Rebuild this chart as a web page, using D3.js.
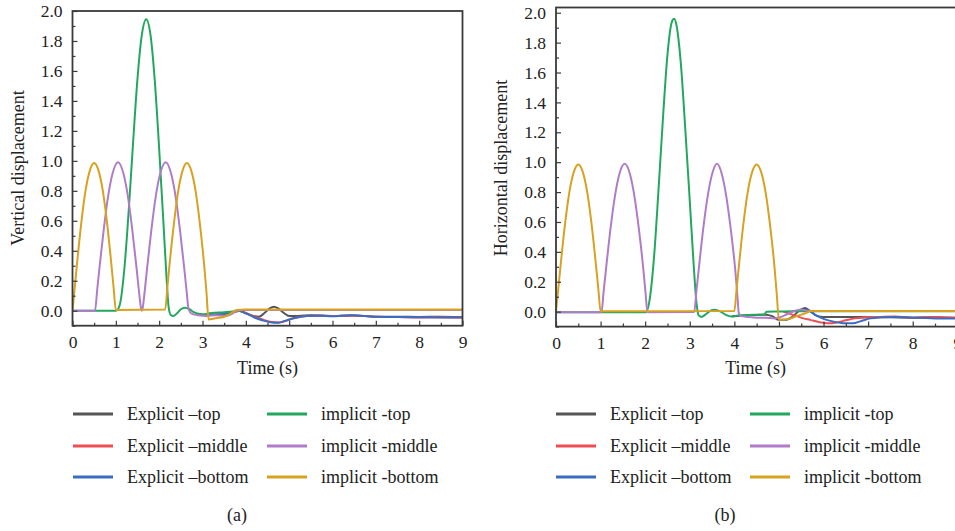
<!DOCTYPE html>
<html>
<head>
<meta charset="utf-8">
<script src="https://cdn.jsdelivr.net/npm/d3@7"></script>
<style>
  html, body { margin: 0; padding: 0; background: #fff; }
  svg { display: block; }
  svg text { font-family: "Liberation Serif", "Times New Roman", serif !important; }
</style>
</head>
<body>
<svg id="chart" width="955" height="531"></svg>
<script>
'use strict';

// tick labels
var xTicks = [0, 1, 2, 3, 4, 5, 6, 7, 8, 9]
  , yTicks = [0, 0.2, 0.4, 0.6, 0.8, 1.0, 1.2, 1.4, 1.6, 1.8, 2.0];

var seriesNames = ['Explicit \u2013top', 'Explicit \u2013middle', 'Explicit \u2013bottom',
                   'implicit -top', 'implicit -middle', 'implicit -bottom'];

// (a) vertical displacement, [time, value]
var aExplicitTop = [[2.9,-0.02],[3.1,-0.03],[3.3,-0.025],[3.5,-0.02],[3.7,-0.01],[3.82,0.0],[3.95,-0.01],
  [4.1,-0.028],[4.3,-0.04],[4.45,-0.01],[4.55,0.015],[4.65,0.027],[4.75,0.015],[4.88,-0.015],[5.0,-0.035],
  [5.2,-0.035],[5.5,-0.03],[6.0,-0.035],[6.5,-0.032],[7.0,-0.04],[7.5,-0.04],[8.0,-0.042],[8.5,-0.04],[9.0,-0.043]];
var aExplicitMiddle = [[2.9,-0.025],[3.1,-0.03],[3.3,-0.025],[3.5,-0.02],[3.7,-0.01],[3.85,0.0],[4.0,-0.015],
  [4.2,-0.04],[4.4,-0.06],[4.6,-0.075],[4.75,-0.078],[4.9,-0.07],[5.1,-0.05],[5.3,-0.038],[5.6,-0.032],
  [6.0,-0.035],[6.5,-0.032],[7.0,-0.04],[7.5,-0.042],[8.0,-0.045],[8.5,-0.043],[9.0,-0.045]];
var aExplicitBottom = [[2.9,-0.025],[3.1,-0.03],[3.3,-0.025],[3.5,-0.02],[3.7,-0.01],[3.85,-0.002],[4.0,-0.018],
  [4.2,-0.045],[4.4,-0.065],[4.6,-0.078],[4.75,-0.08],[4.9,-0.068],[5.1,-0.05],[5.4,-0.035],[5.7,-0.033],
  [6.0,-0.037],[6.4,-0.03],[7.0,-0.04],[7.5,-0.042],[8.0,-0.044],[8.5,-0.045],[9.0,-0.043]];
var aImplicitTop = [[0,0],[1.0,0.0],[1.05,0.01],[1.1,0.05],[1.2,0.29],[1.3,0.68],[1.4,1.13],[1.5,1.55],
  [1.6,1.84],[1.7,1.945],[1.8,1.84],[1.9,1.53],[2.0,1.08],[2.1,0.58],[2.17,0.22],[2.22,0.02],[2.27,-0.03],
  [2.33,-0.035],[2.42,-0.015],[2.5,0.01],[2.6,0.02],[2.7,0.01],[2.8,-0.01],[2.9,-0.02],[3.0,-0.025],
  [3.2,-0.015],[3.5,-0.01],[3.7,-0.005],[3.8,0.0],[3.9,0.004],[9,0.004]];
var aImplicitMiddle = [[0,0],[0.52,0],[0.57,0.14],[0.62,0.28],[0.72,0.54],[0.82,0.76],[0.92,0.91],[1.05,0.99],
  [1.18,0.91],[1.28,0.76],[1.38,0.54],[1.48,0.28],[1.53,0.14],[1.58,0.02],[1.6,0.0],[1.62,0.02],[1.67,0.14],
  [1.72,0.28],[1.82,0.54],[1.92,0.76],[2.02,0.91],[2.15,0.99],[2.28,0.91],[2.38,0.76],[2.48,0.54],[2.58,0.28],
  [2.63,0.14],[2.68,0.01],[2.75,-0.02],[2.9,-0.03],[3.1,-0.035],[3.3,-0.03],[3.5,-0.035],[3.65,-0.025],
  [3.8,0.0],[3.9,0.005],[9,0.005]];
var aImplicitBottom = [[0,0],[0.05,0.15],[0.1,0.3],[0.2,0.58],[0.3,0.8],[0.4,0.935],[0.5,0.985],[0.6,0.935],
  [0.7,0.8],[0.8,0.58],[0.9,0.3],[0.95,0.15],[1.0,0.005],[2.14,0.008],[2.19,0.16],[2.24,0.31],[2.34,0.58],
  [2.44,0.8],[2.54,0.935],[2.64,0.985],[2.74,0.935],[2.84,0.8],[2.94,0.58],[3.04,0.3],[3.09,0.13],
  [3.14,-0.058],[3.3,-0.05],[3.5,-0.04],[3.65,-0.02],[3.78,0.005],[4.0,0.008],[9,0.008]];

// (b) horizontal displacement, [time, value]
var bExplicitTop = [[3.95,-0.03],[4.1,-0.028],[4.3,-0.025],[4.5,-0.022],[4.7,-0.02],[4.85,-0.03],[5.0,-0.055],
  [5.15,-0.055],[5.3,-0.035],[5.45,0.005],[5.58,0.024],[5.7,0.005],[5.85,-0.028],[6.0,-0.035],[6.3,-0.035],
  [6.6,-0.035],[7.0,-0.037],[7.5,-0.038],[8.0,-0.04],[8.5,-0.04],[9,-0.042]];
var bExplicitMiddle = [[5.1,0.0],[5.25,-0.015],[5.4,-0.03],[5.55,-0.045],[5.7,-0.055],[5.9,-0.07],[6.1,-0.078],
  [6.3,-0.072],[6.5,-0.058],[6.7,-0.045],[7.0,-0.038],[7.3,-0.035],[7.6,-0.033],[8.0,-0.04],[8.3,-0.036],
  [8.6,-0.035],[9,-0.04]];
var bExplicitBottom = [[5.3,0.003],[5.5,0.01],[5.62,0.012],[5.8,-0.02],[6.0,-0.048],[6.2,-0.065],[6.45,-0.077],
  [6.65,-0.078],[6.85,-0.062],[7.05,-0.045],[7.3,-0.038],[7.6,-0.035],[8.0,-0.04],[8.3,-0.042],[8.6,-0.045],
  [9,-0.045]];
var bImplicitTop = [[0,-0.004],[2.02,-0.004],[2.1,0.08],[2.2,0.37],[2.3,0.82],[2.4,1.3],[2.5,1.72],[2.6,1.94],
  [2.65,1.96],[2.7,1.92],[2.8,1.66],[2.9,1.22],[3.0,0.74],[3.08,0.35],[3.15,0.06],[3.2,-0.025],[3.26,-0.035],
  [3.35,-0.02],[3.45,0.003],[3.56,0.012],[3.68,0.002],[3.8,-0.02],[3.93,-0.033],[4.05,-0.028],[4.3,-0.022],
  [4.6,-0.02],[4.68,-0.018],[4.72,0.0],[5.0,0.001],[5.3,0.002],[9,0.003]];
var bImplicitMiddle = [[0,-0.004],[1.02,-0.004],[1.07,0.14],[1.12,0.28],[1.22,0.55],[1.32,0.77],[1.42,0.92],
  [1.54,0.99],[1.66,0.92],[1.76,0.77],[1.86,0.55],[1.96,0.28],[2.01,0.12],[2.05,-0.004],[3.1,-0.002],
  [3.15,0.14],[3.2,0.28],[3.3,0.55],[3.4,0.77],[3.5,0.92],[3.61,0.99],[3.72,0.92],[3.82,0.77],[3.92,0.55],
  [4.02,0.28],[4.07,0.1],[4.1,-0.01],[4.15,-0.03],[4.3,-0.035],[4.5,-0.04],[4.7,-0.04],[4.9,-0.045],
  [5.05,-0.035],[5.2,-0.015],[5.35,0.005],[5.5,0.015],[5.65,0.005],[9,0.004]];
var bImplicitBottom = [[0,0],[0.05,0.15],[0.1,0.3],[0.2,0.58],[0.3,0.8],[0.4,0.935],[0.5,0.985],[0.6,0.935],
  [0.7,0.8],[0.8,0.58],[0.9,0.3],[0.95,0.15],[1.0,0.003],[4.0,0.004],[4.05,0.15],[4.1,0.3],[4.2,0.58],
  [4.3,0.8],[4.4,0.935],[4.5,0.985],[4.6,0.935],[4.7,0.8],[4.8,0.58],[4.9,0.3],[4.95,0.12],[5.0,-0.055],
  [5.2,-0.05],[5.4,-0.03],[5.6,-0.01],[5.72,0.004],[9,0.004]];

var colors = ['#555555', '#ee4f55', '#3b6cc4', '#22a85e', '#b07cc7', '#d8a120'];

var svg = d3.select('#chart');

panel({
  series: [aExplicitTop, aExplicitMiddle, aExplicitBottom, aImplicitTop, aImplicitMiddle, aImplicitBottom],
  x: d3.scaleLinear().domain([0, 9]).range([72.5, 462.5]),
  y: d3.scaleLinear().domain([-0.1, 2.0]).range([325.7, 11]),
  ylabel: 'Vertical displacement', ylabelX: 18,
  legendX: [73, 267], caption: '(a)', captionX: 237
});

panel({
  series: [bExplicitTop, bExplicitMiddle, bExplicitBottom, bImplicitTop, bImplicitMiddle, bImplicitBottom],
  x: d3.scaleLinear().domain([0, 9]).range([556, 957.3]),
  y: d3.scaleLinear().domain([-0.1, 2.035]).range([326.6, 7.5]),
  ylabel: 'Horizontal displacement', ylabelX: 501,
  legendX: [556, 750], caption: '(b)', captionX: 725
});

function panel(o){
  var g = svg.append('g')
    , x = o.x, y = o.y
    , x0 = x.range()[0], x1 = x.range()[1]
    , y0 = y.range()[0], y1 = y.range()[1];

  var clipId = 'clip' + o.caption.charAt(1);
  g.append('clipPath').attr('id', clipId)
    .append('rect').attr('x', x0).attr('y', y1).attr('width', x1 - x0).attr('height', y0 - y1);

  var line = d3.line()
    .x(function(d){ return x(d[0]); })
    .y(function(d){ return y(d[1]); })
    .curve(d3.curveMonotoneX);

  g.append('g').attr('clip-path', 'url(#' + clipId + ')')
    .selectAll('path').data(o.series).join('path')
      .attr('d', line)
      .attr('fill', 'none')
      .attr('stroke', function(d, i){ return colors[i]; })
      .attr('stroke-width', 2)
      .attr('stroke-linejoin', 'round');

  // minor ticks (inward, no labels)
  var xMinor = d3.range(0.5, 9, 1)
    , yMinor = d3.range(-0.1, 2.0, 0.2).map(function(v){ return +v.toFixed(1); });

  g.append('g').attr('transform', 'translate(0,' + y0 + ')')
    .call(d3.axisBottom(x).tickValues(xMinor).tickSize(-3).tickFormat(''))
    .call(cleanAxis);
  g.append('g').attr('transform', 'translate(' + x0 + ',0)')
    .call(d3.axisLeft(y).tickValues(yMinor).tickSize(-3).tickFormat(''))
    .call(cleanAxis);

  g.append('g').attr('transform', 'translate(0,' + y0 + ')')
    .call(d3.axisBottom(x).tickValues(xTicks).tickSize(-5).tickPadding(10).tickFormat(d3.format('d')))
    .call(cleanAxis);
  g.append('g').attr('transform', 'translate(' + x0 + ',0)')
    .call(d3.axisLeft(y).tickValues(yTicks).tickSize(-5).tickPadding(10).tickFormat(d3.format('.1f')))
    .call(cleanAxis);

  g.append('rect')
    .attr('x', x0).attr('y', y1).attr('width', x1 - x0).attr('height', y0 - y1)
    .attr('fill', 'none').attr('stroke', '#3a3a3a').attr('stroke-width', 1.8);

  g.append('text')
    .attr('x', (x.range()[0] + x(9)) / 2 + (o.caption === '(b)' ? -1 : 0)).attr('y', 368).attr('dy', '0.35em')
    .attr('text-anchor', 'middle').attr('font-size', 18).attr('fill', '#222')
    .text('Time (s)');

  g.append('text')
    .attr('transform', 'translate(' + o.ylabelX + ',168) rotate(-90)')
    .attr('dy', '0.35em')
    .attr('text-anchor', 'middle').attr('font-size', 18).attr('fill', '#222')
    .text(o.ylabel);

  // legend: two columns of three
  var rowsY = [414, 446, 477];
  var items = g.append('g').selectAll('g').data(seriesNames).join('g')
    .attr('transform', function(d, i){
      return 'translate(' + o.legendX[Math.floor(i / 3)] + ',' + rowsY[i % 3] + ')';
    });
  items.append('line')
    .attr('x1', 0).attr('x2', 40)
    .attr('stroke', function(d, i){ return colors[i]; })
    .attr('stroke-width', 3);
  items.append('text')
    .attr('x', 54).attr('dy', '0.35em')
    .attr('font-size', 18).attr('fill', '#222')
    .text(function(d){ return d; });

  g.append('text')
    .attr('x', o.captionX).attr('y', 515).attr('dy', '0.35em')
    .attr('text-anchor', 'middle').attr('font-size', 18).attr('fill', '#222')
    .text(o.caption);
}

function cleanAxis(sel){
  sel.attr('font-family', null);
  sel.select('.domain').remove();
  sel.selectAll('.tick line').attr('stroke', '#3a3a3a').attr('stroke-width', 1.2);
  sel.selectAll('.tick text')
    .style('font-family', '"Liberation Serif", "Times New Roman", serif')
    .attr('font-size', 17.5).attr('fill', '#222');
}
</script>
</body>
</html>
